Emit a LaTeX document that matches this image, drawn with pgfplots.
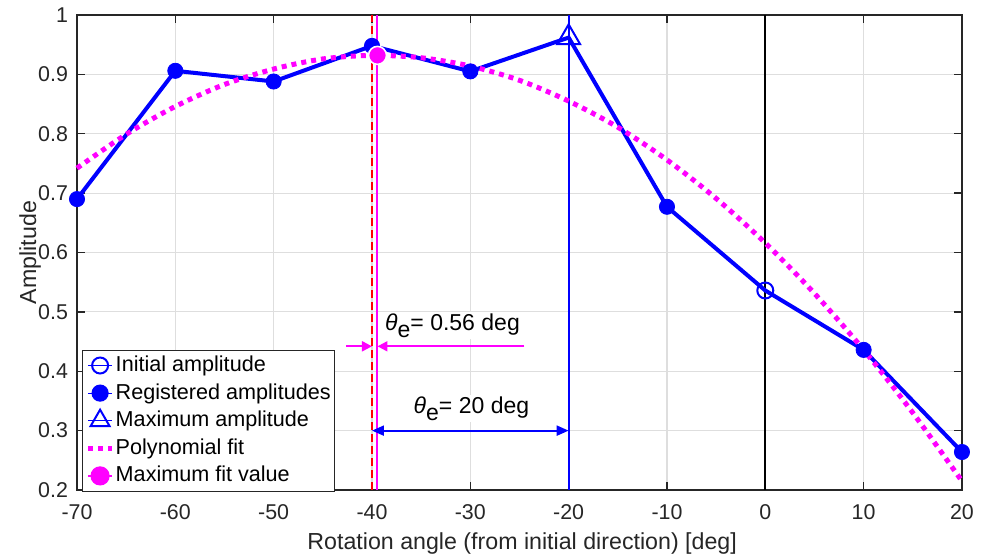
\documentclass[border=0pt]{standalone}
\usepackage{fontspec}
\setmainfont{Liberation Sans}
\usepackage{pgfplots}
\pgfplotsset{compat=1.18}
\usetikzlibrary{arrows.meta}
\definecolor{mblue}{RGB}{0,0,255}
\definecolor{mmag}{RGB}{255,0,255}
\definecolor{mred}{RGB}{255,0,0}
\definecolor{axgray}{RGB}{38,38,38}
\definecolor{gridc}{RGB}{222,222,222}
\pgfplotsset{
  legmark/.style={legend image code/.code={\path (0cm,0cm) -- (0.42cm,0cm);\draw[##1] plot coordinates {(0.21cm,0cm)};}},
  legline/.style={legend image code/.code={\draw[##1] (0cm,0cm) -- (0.42cm,0cm);}},
}
\begin{document}
\begin{tikzpicture}
\path[use as bounding box] (-38.5pt,-34pt) rectangle (455pt,245pt);
\begin{axis}[
  scale only axis, width=442.5pt, height=237.5pt,
  xmin=-70, xmax=20, ymin=0.2, ymax=1,
  xtick={-70,-60,-50,-40,-30,-20,-10,0,10,20},
  xticklabels={-70,-60,-50,-40,-30,-20,-10,0,10,20},
  ytick={0.2,0.3,0.4,0.5,0.6,0.7,0.8,0.9,1},
  yticklabels={0.2,0.3,0.4,0.5,0.6,0.7,0.8,0.9,1},
  tick label style={font=\fontsize{10.7}{12}\selectfont, color=axgray},
  xticklabel style={yshift=-3.5pt},
  yticklabel style={xshift=-1pt},
  tick align=inside, major tick length=4pt,
  tick style={axgray, line width=0.7pt},
  axis line style={axgray, line width=0.8pt},
  grid=major, major grid style={gridc, line width=0.6pt},
  xlabel={Rotation angle (from initial direction) [deg]},
  ylabel={Amplitude},
  label style={font=\fontsize{11.6}{13}\selectfont, color=axgray},
  xlabel style={at={(axis description cs:0.503,-0.112)}, anchor=center},
  ylabel style={at={(axis description cs:-0.053,0.5)}, anchor=center},
  legend cell align=left,
  legend style={at={(axis description cs:0.0057,-0.004)}, anchor=south west,
    draw=axgray, line width=0.6pt, fill=white,
    font=\fontsize{10.8}{12}\selectfont,
    inner xsep=1.5pt, inner ysep=1.5pt,
    nodes={inner sep=0.6pt, text depth=2.6pt, text height=8.6pt},
    row sep=1.4pt,
    /tikz/every even column/.append style={column sep=2.5pt}},
  clip=false,
]
% annotation labels
\node[anchor=west, fill=white, inner sep=1pt, font=\fontsize{11.5}{13}\selectfont]
  at (axis cs:-38.9,0.477) {\textit{θ}\raisebox{-0.55ex}{e}= 0.56 deg};
\node[anchor=west, fill=white, inner sep=1pt, font=\fontsize{11.5}{13}\selectfont]
  at (axis cs:-36.0,0.337) {\textit{θ}\raisebox{-0.55ex}{e}= 20 deg};
% vertical reference lines
\addplot[mred, line width=1pt, dash pattern=on 4pt off 2pt, forget plot] coordinates {(-40,0.2) (-40,1)};
\addplot[mmag, line width=1pt, forget plot] coordinates {(-39.44,0.2) (-39.44,1)};
\addplot[mblue, line width=1pt, forget plot] coordinates {(-20,0.2) (-20,1)};
\addplot[black, line width=1pt, forget plot] coordinates {(0,0.2) (0,1)};
% angle arrows
\addplot[mblue, line width=1pt, {Triangle[length=6pt,width=5pt]}-{Triangle[length=6pt,width=5pt]}, forget plot]
  coordinates {(-40,0.3) (-20,0.3)};
\addplot[mmag, line width=1pt, -{Triangle[length=5pt,width=5pt]}, forget plot]
  coordinates {(-42.6,0.442) (-40,0.442)};
\addplot[mmag, line width=1pt, -{Triangle[length=5pt,width=5pt]}, forget plot]
  coordinates {(-24.5,0.442) (-39.44,0.442)};
% measured amplitudes
\addplot[mblue, line width=2pt, forget plot] coordinates {
  (-70,0.690) (-60,0.906) (-50,0.888) (-40,0.948) (-30,0.905)
  (-20,0.962) (-10,0.677) (0,0.536) (10,0.436) (20,0.264)};
\addplot[only marks, mark=*, mark size=3.8pt, mblue, forget plot] coordinates {
  (-70,0.690) (-60,0.906) (-50,0.888) (-40,0.948) (-30,0.905)
  (-10,0.677) (10,0.436) (20,0.264)};
\addplot[only marks, mark=o, mark size=4pt, mblue, mark options={fill=white, line width=1pt}, forget plot]
  coordinates {(0,0.536)};
\addplot[only marks, mark=triangle, mark size=6.6pt, mblue, mark options={fill=white, line width=1pt}, forget plot]
  coordinates {(-20,0.962)};
% polynomial fit
\addplot[mmag, line width=2.5pt, dash pattern=on 2.5pt off 2.5pt, smooth, forget plot] coordinates {
  (-70,0.742) (-65,0.799) (-60,0.846) (-55,0.883) (-50,0.909) (-45,0.926)
  (-40,0.932) (-35,0.928) (-30,0.914) (-25,0.890) (-20,0.855) (-15,0.811)
  (-10,0.756) (-5,0.691) (0,0.616) (5,0.531) (10,0.436) (15,0.330) (20,0.215)};
% maximum of the fit
\addplot[only marks, mark=*, mark size=4.5pt, mmag, mark options={draw=white, line width=0.8pt}, forget plot]
  coordinates {(-39.44,0.932)};
% legend
\addlegendimage{legmark, only marks, mark=o, mark size=4pt, mblue, mark options={fill=white, line width=1pt}}
\addlegendentry{Initial amplitude}
\addlegendimage{legmark, only marks, mark=*, mark size=4pt, mblue}
\addlegendentry{Registered amplitudes}
\addlegendimage{legmark, only marks, mark=triangle, mark size=5.5pt, mblue, mark options={fill=white, line width=1pt}}
\addlegendentry{Maximum amplitude}
\addlegendimage{legline, mmag, line width=2.5pt, dash pattern=on 2.5pt off 2.5pt}
\addlegendentry{Polynomial fit}
\addlegendimage{legmark, only marks, mark=*, mark size=4.5pt, mmag}
\addlegendentry{Maximum fit value}
\end{axis}
\end{tikzpicture}
\end{document}
